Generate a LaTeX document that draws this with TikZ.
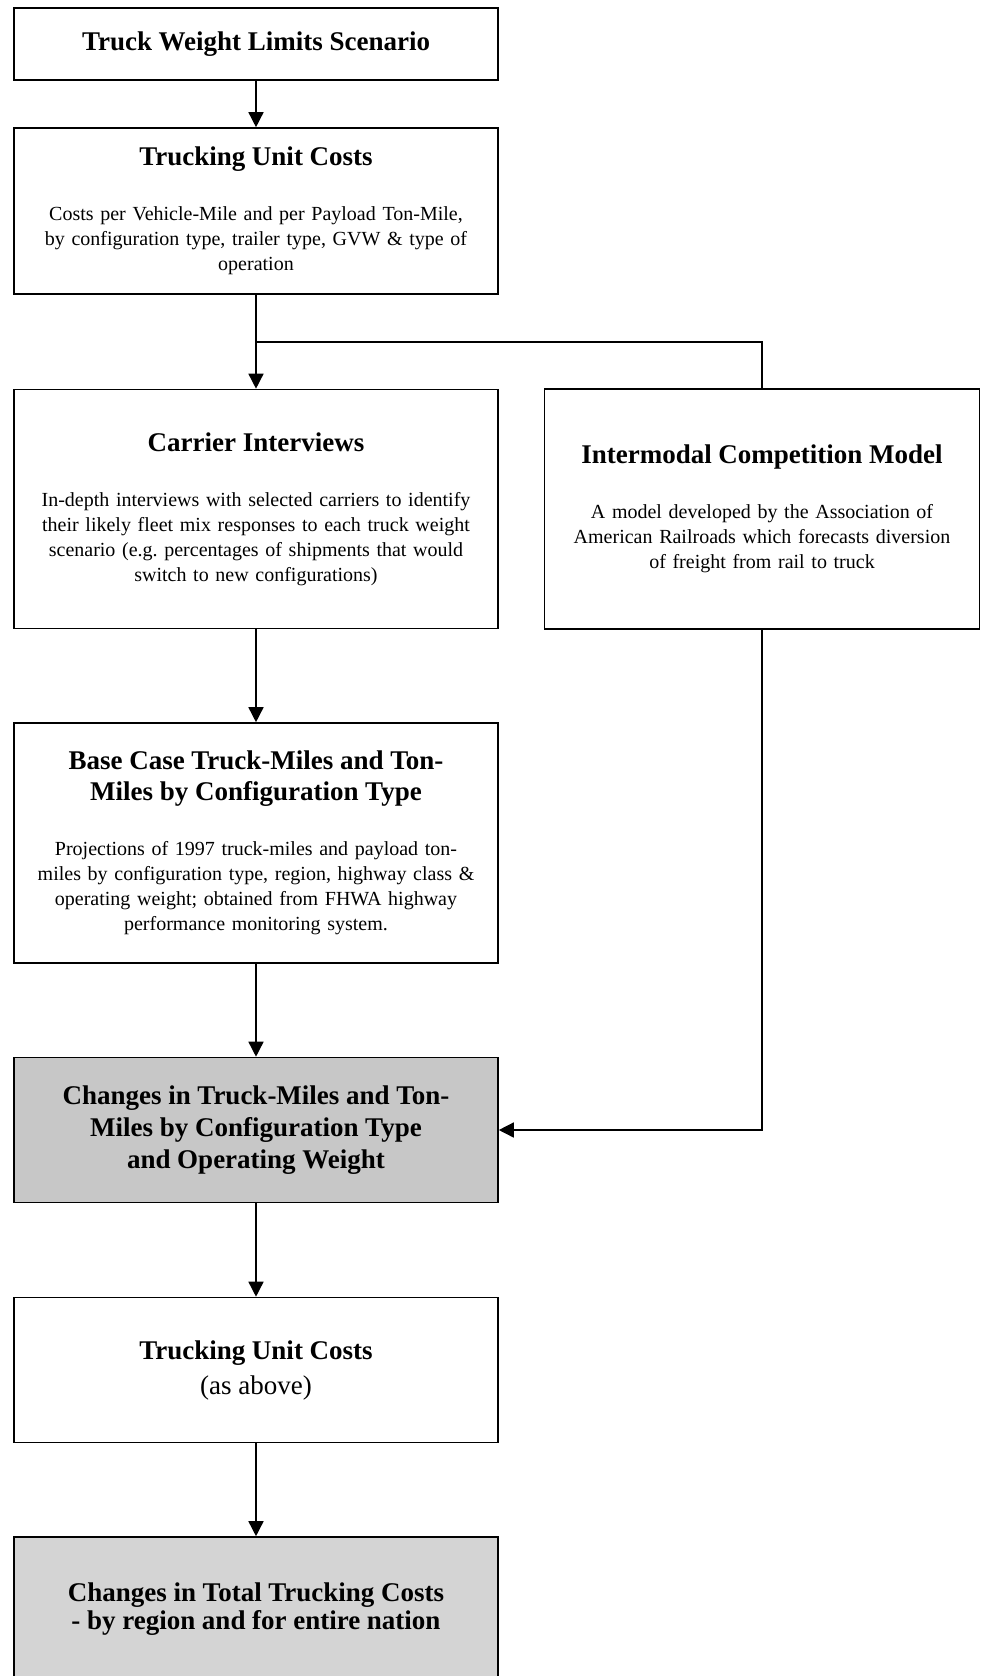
\documentclass[tikz,border=0pt]{standalone}
\usepackage{fontspec}
\setmainfont{Liberation Serif}
\usetikzlibrary{arrows.meta}
\newcommand{\hd}[2][31]{{\fontsize{27}{#1}\selectfont\bfseries #2\par}}
\newcommand{\bd}{\fontsize{20}{25}\selectfont}
\frenchspacing
\tikzset{
  box/.style={draw, line width=1.6pt, minimum width=484pt, text width=470pt, align=center, inner sep=0pt, font=\bd},
  shaded/.style={box, fill=black!22},
}
\begin{document}
\begin{tikzpicture}[x=1pt, y=-1pt, line width=1.5pt, >={Triangle[width=15pt,length=15pt]}]
                        \useasboundingbox (0,0) rectangle (986,1676);
                        \node (scen) at (256,44) [box, minimum height=72pt] {\hd{Truck Weight Limits Scenario}};
                        \node (cost) at (256,211) [box, minimum height=166pt] {\hd{Trucking Unit Costs}\vspace{30pt}Costs per Vehicle-Mile and per Payload Ton-Mile,\\by configuration type, trailer type, GVW \& type of\\operation};
                        \node (carrier) at (256,509) [box, minimum height=239pt] {\hd{Carrier Interviews}\vspace{30pt}In-depth interviews with selected carriers to identify\\their likely fleet mix responses to each truck weight\\scenario (e.g. percentages of shipments that would\\switch to new configurations)};
                        \node (model) at (762,509) [box, minimum width=435pt, text width=425pt, minimum height=240pt] {\hd{Intermodal Competition Model}\vspace{30pt}A model developed by the Association of\\American Railroads which forecasts diversion\\of freight from rail to truck};
                        \node (base) at (256,843) [box, minimum height=240pt] {\hd{Base Case Truck-Miles and Ton-\\Miles by Configuration Type}\vspace{30pt}Projections of 1997 truck-miles and payload ton-\\miles by configuration type, region, highway class \&\\operating weight; obtained from FHWA highway\\performance monitoring system.};
                        \node (change) at (256,1130) [shaded, minimum height=145pt] {\hd[32]{Changes in Truck-Miles and Ton-\\Miles by Configuration Type\\and Operating Weight}};
                        \node (cost2) at (256,1370) [box, minimum height=145pt] {{\fontsize{27}{35}\selectfont\textbf{Trucking Unit Costs}\\(as above)\par}};
                        \node (total) at (256,1609) [box, fill=black!17, minimum height=144pt] {\hd[28]{Changes in Total Trucking Costs\\- by region and for entire nation}};
                        \coordinate (split) at (256,342);
                        \draw[->] (scen) -- (cost);
                        \draw[->] (cost) -- (carrier);
                        \draw (split) -| (model.north);
                        \draw[->] (carrier) -- (base);
                        \draw[->] (base) -- (change);
                        \draw[->] (model.south) |- (change.east);
                        \draw[->] (change) -- (cost2);
                        \draw[->] (cost2) -- (total);
                    \end{tikzpicture}
\end{document}
